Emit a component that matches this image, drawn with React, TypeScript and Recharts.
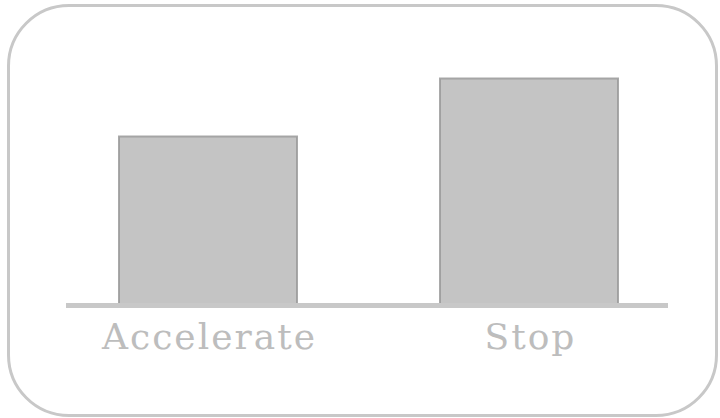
import { BarChart, Bar, XAxis, YAxis } from 'recharts';

// Two actions compared on a shared baseline
const categories = ['Accelerate', 'Stop'];
const values = [6.7, 9];
const yMax = 9;

const data = categories.map((name, i) => ({ name, value: values[i] }));

function ActionTick({ x, y, payload }: any) {
  return (
    <text
      x={x + 2}
      y={y}
      dy={35}
      textAnchor="middle"
      fill="#bdbdbd"
      fontFamily="'DejaVu Serif', serif"
      fontSize={36}
      letterSpacing={2}
    >
      {payload.value}
    </text>
  );
}

export default function App() {
  return (
    <div style={{ position: 'absolute', left: 0, top: 0, width: 720, height: 418, background: '#fff' }}>
      <div
        style={{
          position: 'absolute',
          left: 7,
          top: 4,
          width: 711,
          height: 413,
          boxSizing: 'border-box',
          border: '3px solid #c8c8c8',
          borderRadius: 62,
        }}
      />
      <div style={{ position: 'absolute', left: 0, top: 0 }}>
        <BarChart
          width={720}
          height={418}
          data={data}
          margin={{ top: 78.5, right: 52, bottom: 52.5, left: 66 }}
          barSize={178}
        >
          <XAxis
            dataKey="name"
            height={60}
            padding={{ left: -19, right: -21 }}
            axisLine={{ stroke: '#c8c8c8', strokeWidth: 5 }}
            tickLine={false}
            tick={<ActionTick />}
            interval={0}
          />
          <YAxis hide domain={[0, yMax]} />
          <Bar
            dataKey="value"
            fill="#c4c4c4"
            stroke="#9a9a9a"
            strokeWidth={2}
            strokeOpacity={0.85}
            isAnimationActive={false}
          />
        </BarChart>
      </div>
    </div>
  );
}
